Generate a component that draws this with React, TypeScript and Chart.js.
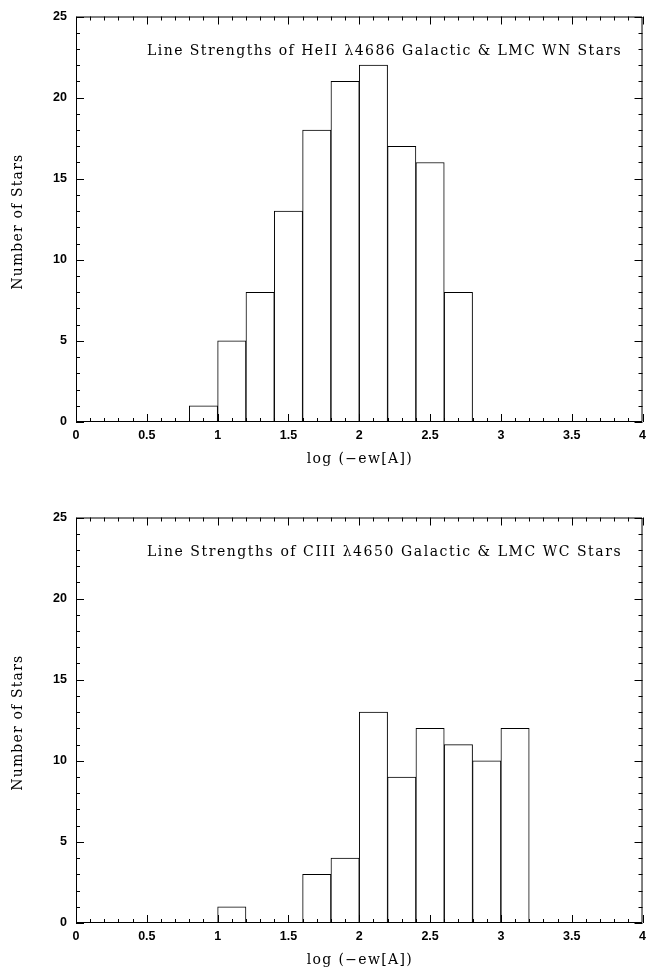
import React, { useEffect, useRef } from "react";
import { Chart, registerables } from "chart.js";

Chart.register(...registerables);

const BIN_WIDTH = 0.2;

const heIIBinStarts = [0.8, 1.0, 1.2, 1.4, 1.6, 1.8, 2.0, 2.2, 2.4, 2.6];
const heIICounts = [1, 5, 8, 13, 18, 21, 22, 17, 16, 8];

const ciiiBinStarts = [1.0, 1.6, 1.8, 2.0, 2.2, 2.4, 2.6, 2.8, 3.0];
const ciiiCounts = [1, 3, 4, 13, 9, 12, 11, 10, 12];

const xTickValues = [0, 0.5, 1, 1.5, 2, 2.5, 3, 3.5, 4];
const xTickLabels = ["0", "0.5", "1", "1.5", "2", "2.5", "3", "3.5", "4"];
const yTickValues = [0, 5, 10, 15, 20, 25];
const yTickLabels = ["0", "5", "10", "15", "20", "25"];
const X_MIN = 0;
const X_MAX = 4;
const Y_MIN = 0;
const Y_MAX = 25;
const X_MINOR = 0.1;
const Y_MINOR = 1;

const X_TITLE = "log (\u2212ew[A])";
const Y_TITLE = "Number of Stars";
const HEII_TITLE = "Line Strengths of HeII \u03bb4686 Galactic & LMC WN Stars";
const CIII_TITLE = "Line Strengths of CIII \u03bb4650 Galactic & LMC WC Stars";

const CANVAS_W = 652;
const CANVAS_H = 475;
const SERIF = '14px "DejaVu Serif", serif';

function spacedText(ctx: any, text: string, targetWidth: number) {
  (ctx as any).letterSpacing = "0px";
  const w = ctx.measureText(text).width;
  const sp = (targetWidth - w) / Math.max(1, text.length - 1);
  (ctx as any).letterSpacing = sp.toFixed(2) + "px";
  return sp;
}

const framePlugin = {
  id: "frameTicks",
  afterDraw(chart: any) {
    const { ctx, chartArea: a, scales } = chart;
    const xs = scales.x;
    const ys = scales.y;
    ctx.save();
    ctx.strokeStyle = "#000";
    ctx.lineWidth = 1;
    ctx.beginPath();
    ctx.rect(a.left + 0.5, a.top + 0.5, a.right - a.left - 1, a.bottom - a.top - 1);
    ctx.stroke();

    ctx.beginPath();
    const nx = Math.round((X_MAX - X_MIN) / X_MINOR);
    for (let i = 0; i <= nx; i++) {
      const v = X_MIN + i * X_MINOR;
      const px = Math.round(xs.getPixelForValue(v)) + 0.5;
      const major = i % 5 === 0;
      const len = major ? 8 : 4;
      ctx.moveTo(px, a.bottom);
      ctx.lineTo(px, a.bottom - len);
      ctx.moveTo(px, a.top);
      ctx.lineTo(px, a.top + len);
    }
    const ny = Math.round((Y_MAX - Y_MIN) / Y_MINOR);
    for (let i = 0; i <= ny; i++) {
      const v = Y_MIN + i * Y_MINOR;
      const py = Math.round(ys.getPixelForValue(v)) + 0.5;
      const major = i % 5 === 0;
      const len = major ? 8 : 4;
      ctx.moveTo(a.left, py);
      ctx.lineTo(a.left + len, py);
      ctx.moveTo(a.right, py);
      ctx.lineTo(a.right - len, py);
    }
    ctx.stroke();

    ctx.fillStyle = "#000";
    ctx.font = SERIF;
    ctx.textBaseline = "middle";

    // in-plot title
    const text: string = chart.options.plugins.frameTicks.text;
    ctx.textAlign = "left";
    const startX = a.left + 71;
    spacedText(ctx, text, a.right - 22 - startX);
    ctx.fillText(text, startX, a.top + 35);

    // x axis title
    ctx.textAlign = "left";
    const xw = 105;
    spacedText(ctx, X_TITLE, xw);
    ctx.fillText(X_TITLE, (a.left + a.right) / 2 - xw / 2, a.bottom + 37);

    // y axis title
    const yw = 135;
    ctx.save();
    ctx.translate(18.5, (a.top + a.bottom) / 2 + 3);
    ctx.rotate(-Math.PI / 2);
    spacedText(ctx, Y_TITLE, yw);
    ctx.fillText(Y_TITLE, -yw / 2, 0);
    ctx.restore();

    (ctx as any).letterSpacing = "0px";
    ctx.restore();
  },
};

function Panel({ title, starts, counts, top }: { title: string; starts: number[]; counts: number[]; top: number }) {
  const ref = useRef<HTMLCanvasElement | null>(null);
  useEffect(() => {
    if (!ref.current) return;
    const tickFont = { family: '"Liberation Sans", sans-serif', weight: "bold" as const, size: 12.5 };
    const chart = new Chart(ref.current, {
      type: "bar",
      data: {
        datasets: [
          {
            data: starts.map((s, i) => ({ x: s + BIN_WIDTH / 2, y: counts[i] })) as any,
            backgroundColor: "#ffffff",
            borderColor: "#000000",
            borderWidth: 1,
            borderSkipped: false,
            barPercentage: 1,
            categoryPercentage: 1,
          },
        ],
      },
      options: {
        animation: false,
        responsive: false,
        maintainAspectRatio: false,
        layout: { padding: { left: 0, right: 5, top: 10, bottom: 0 } },
        plugins: {
          legend: { display: false },
          tooltip: { enabled: false },
          frameTicks: { text: title },
        } as any,
        scales: {
          x: {
            type: "linear",
            min: X_MIN,
            max: X_MAX,
            offset: false,
            grid: { display: false, drawTicks: false },
            border: { display: false },
            afterBuildTicks: (s: any) => {
              s.ticks = xTickValues.map((v) => ({ value: v }));
            },
            ticks: {
              autoSkip: false,
              maxRotation: 0,
              padding: 6,
              color: "#000",
              font: tickFont,
              callback: (v: any) => {
                const k = xTickValues.findIndex((t) => Math.abs(t - Number(v)) < 1e-9);
                return k >= 0 ? xTickLabels[k] : "";
              },
            },
            title: { display: false },
            afterFit: (s: any) => {
              s.height = CANVAS_H - 10 - 412;
            },
          } as any,
          y: {
            type: "linear",
            min: Y_MIN,
            max: Y_MAX,
            grid: { display: false, drawTicks: false },
            border: { display: false },
            afterBuildTicks: (s: any) => {
              s.ticks = yTickValues.map((v) => ({ value: v }));
            },
            ticks: {
              autoSkip: false,
              padding: 9,
              color: "#000",
              font: tickFont,
              callback: (v: any) => {
                const k = yTickValues.findIndex((t) => Math.abs(t - Number(v)) < 1e-9);
                return k >= 0 ? yTickLabels[k] : "";
              },
            },
            title: { display: false },
            afterFit: (s: any) => {
              s.width = 76;
            },
          } as any,
        },
      },
      plugins: [framePlugin],
    });
    return () => chart.destroy();
  }, [title, starts, counts]);
  return (
    <div style={{ position: "absolute", left: 0, top, width: CANVAS_W, height: CANVAS_H }}>
      <canvas
        ref={ref}
        width={CANVAS_W}
        height={CANVAS_H}
        role="img"
        aria-label={title + " — " + X_TITLE + " vs " + Y_TITLE}
        style={{ width: CANVAS_W, height: CANVAS_H, display: "block" }}
      />
    </div>
  );
}

export default function App() {
  return (
    <div style={{ position: "absolute", left: 0, top: 0, width: 652, height: 976, background: "#fff" }}>
      <Panel title={HEII_TITLE} starts={heIIBinStarts} counts={heIICounts} top={0} />
      <Panel title={CIII_TITLE} starts={ciiiBinStarts} counts={ciiiCounts} top={501} />
    </div>
  );
}
